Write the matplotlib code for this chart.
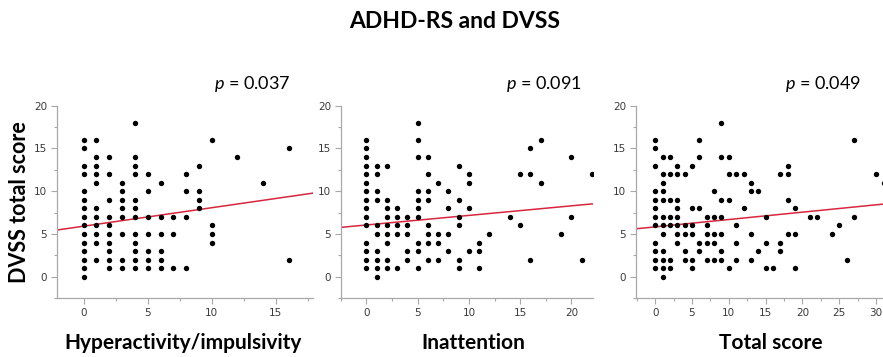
"""ADHD-RS subscales vs DVSS total score scatter panels"""

import numpy as np
import matplotlib
matplotlib.use("Agg")
import matplotlib.pyplot as plt
from matplotlib.ticker import MultipleLocator

plt.rcParams['font.family'] = ['Lato', 'DejaVu Sans']
plt.rcParams['mathtext.fontset'] = 'custom'
plt.rcParams['mathtext.it'] = 'Lato:italic'
plt.rcParams['mathtext.rm'] = 'Lato'

# ---- data: (x, list of DVSS values at that x) ----
hyper_cols = {
    0: [16, 15, 13, 12, 10, 9, 8, 7, 6, 5, 4, 3, 2, 1, 0],
    1: [16, 14, 13, 12, 11, 8, 7, 6, 5, 4, 2],
    2: [14, 12, 9, 7, 6, 5, 4, 3, 2, 1],
    3: [11, 10, 9, 8, 7, 5, 2, 1],
    4: [18, 14, 13, 12, 9, 8, 7, 5, 4, 3, 2, 1],
    5: [12, 10, 7, 5, 3, 2, 1],
    6: [11, 7, 5, 3, 2, 1],
    7: [7, 5, 1],
    8: [12, 10, 7, 1],
    9: [13, 10, 9, 8],
    10: [16, 6, 5, 4],
    12: [14],
    14: [11],
    16: [15, 2],
}
inatt_cols = {
    0: [16, 15, 14, 13, 12, 11, 10, 9, 8, 7, 6, 4, 3, 2, 1],
    1: [13, 12, 10, 9, 6, 5, 3, 2, 1, 0],
    2: [13, 9, 8, 7, 6, 5, 4, 2, 1],
    3: [8, 7, 6, 5, 1],
    4: [7, 6, 5, 3, 2],
    5: [18, 16, 14, 10, 9, 8, 7, 4, 3, 1],
    6: [14, 12, 10, 9, 6, 5, 4, 2],
    7: [11, 5, 4, 2],
    8: [10, 8, 5, 3],
    9: [13, 9, 7, 6, 2, 1],
    10: [12, 11, 8, 3],
    11: [4, 3, 1],
    12: [5],
    14: [7],
    15: [12, 6],
    16: [15, 12, 2],
    17: [16, 11],
    19: [5],
    20: [14, 7],
    21: [2],
    22: [12],
}
total_cols = {
    0: [16, 15, 13, 10, 9, 8, 7, 6, 4, 3, 2, 1],
    1: [14, 12, 11, 10, 9, 7, 6, 5, 3, 2, 1, 0],
    2: [14, 12, 9, 7, 6, 2, 1],
    3: [13, 12, 9, 8, 7, 6, 5, 4],
    4: [12, 6, 5, 3, 2],
    5: [13, 8, 6, 5, 2, 1],
    6: [16, 14, 8, 4, 3],
    7: [7, 6, 5, 4, 2],
    8: [10, 7, 5, 4, 2],
    9: [18, 14, 9, 7, 5, 3, 2],
    10: [14, 12, 9, 1],
    11: [12, 6, 4, 2],
    12: [12, 8],
    13: [11, 10, 5, 2],
    14: [10, 3],
    15: [7, 4, 1],
    16: [1],
    17: [12, 4, 3],
    18: [13, 12, 9, 5],
    19: [8, 5, 1],
    21: [7],
    22: [7],
    24: [5],
    25: [6],
    26: [2],
    27: [16, 7],
    30: [12],
    31: [11],
}

# regression lines (intercept, slope)
fit_intercept = [5.91, 6.05, 5.83]
fit_slope = [0.216, 0.112, 0.086]

p_labels = ["0.037", "0.091", "0.049"]
x_labels = ["Hyperactivity/impulsivity", "Inattention", "Total score"]
x_ticks = [[0, 5, 10, 15], [0, 5, 10, 15, 20], [0, 5, 10, 15, 20, 25, 30]]
x_limits = [(-2.1, 17.9), (-2.5, 22.1), (-2.6, 31.2)]
y_limits = (-2.5, 20)

W, H = 883, 357
fig = plt.figure(figsize=(W / 100, H / 100), dpi=100)

# axes boxes in pixels: left, right
boxes = [(56.7, 313), (340.7, 593), (636, 885)]
top_px, bottom_px = 105.7, 298.1

spine_col = '#a8a8a8'
red = '#d7263d'

for i, cols in enumerate([hyper_cols, inatt_cols, total_cols]):
    xs = []
    ys = []
    for xv, yv in cols.items():
        xs += [xv] * len(yv)
        ys += yv
    xs = np.array(xs)
    ys = np.array(ys)

    l, r = boxes[i]
    ax = fig.add_axes([l / W, (H - bottom_px) / H, (r - l) / W,
                       (bottom_px - top_px) / H])
    ax.set_xlim(*x_limits[i])
    ax.set_ylim(*y_limits)
    ax.scatter(xs, ys, s=15, color='black', linewidths=0, zorder=3)
    xl = np.array(x_limits[i])
    ax.plot(xl, fit_intercept[i] + fit_slope[i] * xl, color=red, lw=1.1,
            zorder=2)

    for side in ['top', 'right']:
        ax.spines[side].set_visible(False)
    for side in ['left', 'bottom']:
        ax.spines[side].set_color(spine_col)
        ax.spines[side].set_linewidth(0.9)
    ax.set_xticks(x_ticks[i])
    ax.set_yticks([0, 5, 10, 15, 20])
    ax.xaxis.set_minor_locator(MultipleLocator(2.5))
    ax.yaxis.set_minor_locator(MultipleLocator(2.5))
    ax.tick_params(which='both', direction='out', color=spine_col,
                   labelcolor='#3a3a3a', labelsize=7.5, width=0.8)
    ax.tick_params(which='major', length=4, pad=3)
    ax.tick_params(which='minor', length=2.5)
    for lab in ax.get_xticklabels() + ax.get_yticklabels():
        lab.set_fontfamily('DejaVu Sans')

fig.text(455 / W, 1 - 22 / H, "ADHD-RS and DVSS", ha='center', va='center',
         fontsize=16.5, fontweight='bold')

p_right = [290, 582, 861]
for i in range(3):
    fig.text(p_right[i] / W, 1 - 84 / H, "$p$ = " + p_labels[i],
             ha='right', va='center', fontsize=13)

x_centers = [183, 473, 771]
for i in range(3):
    fig.text(x_centers[i] / W, 1 - 343 / H, x_labels[i], ha='center',
             va='center', fontsize=15, fontweight='bold')

fig.text(20 / W, 1 - 202 / H, "DVSS total score", ha='center', va='center',
         rotation=90, fontsize=15.5, fontweight='bold')

fig.savefig("out.png", dpi=100)
